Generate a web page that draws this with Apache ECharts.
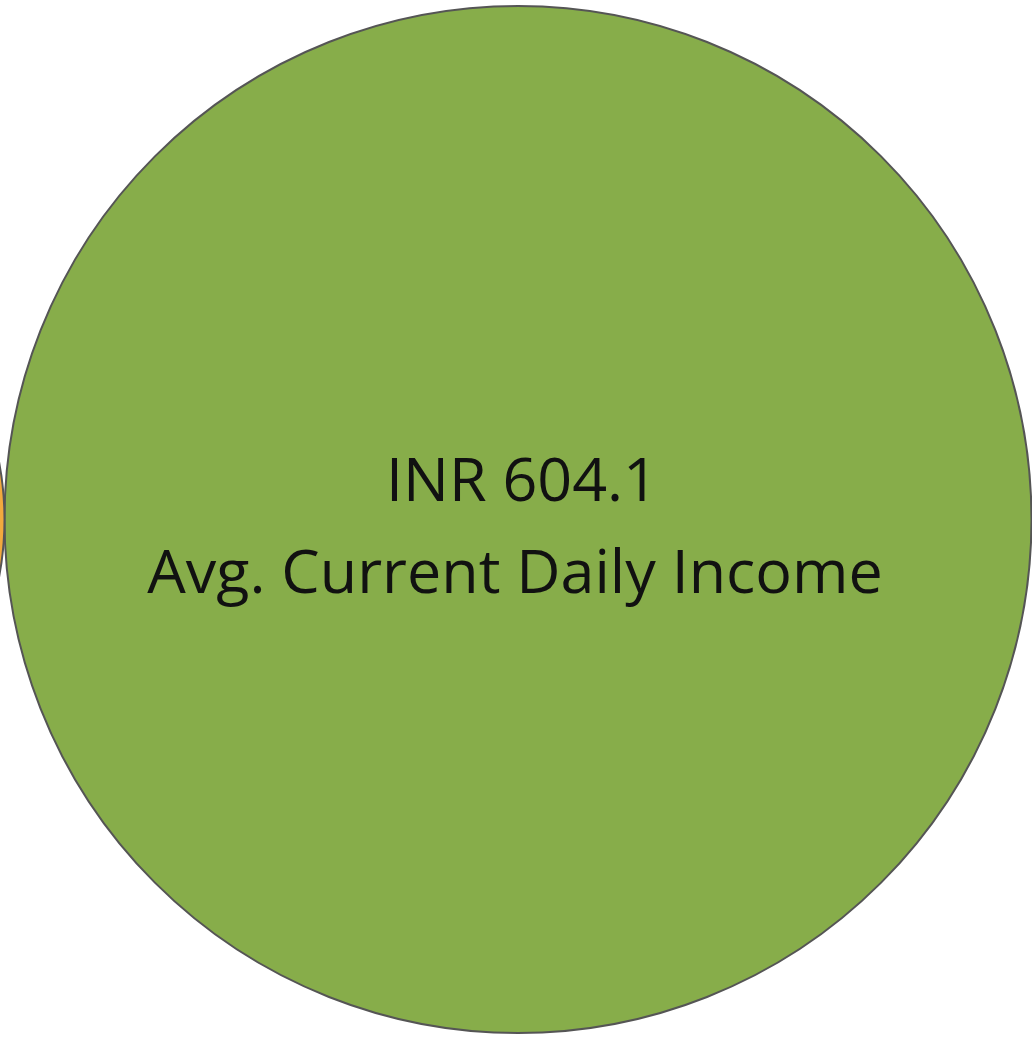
<!DOCTYPE html>
<html>
<head>
<meta charset="utf-8">
<script src="https://cdn.jsdelivr.net/npm/echarts@6/dist/echarts.min.js"></script>
<style>
html,body{margin:0;padding:0;background:#fff;}
#main{width:1032px;height:1039px;}
</style>
</head>
<body>
<div id="main"></div>
<script>
// Data
const categories = ["Avg. Current Daily Income", "Avg. Previous Daily Income"];
const values = [604.1, 213];
const labels = ["INR 604.1", ""];
const colors = ["#87ad4a", "#f2a93e"];

// Layout (packed bubbles: largest centred, next placed tangent on the left)
const W = 1032, H = 1039;
const centre = [518, 519.5];
const scale = 1027 / Math.sqrt(values[0]); // px diameter per sqrt(value)
const diam = values.map(v => scale * Math.sqrt(v));
const xs = [centre[0], centre[0] - diam[0] / 2 - diam[1] / 2];
const ys = [centre[1], centre[1]];

const chart = echarts.init(document.getElementById('main'));
chart.setOption({
  animation: false,
  grid: {left: 0, right: 0, top: 0, bottom: 0},
  xAxis: {type: 'value', min: 0, max: W, show: false},
  yAxis: {type: 'value', min: 0, max: H, inverse: true, show: false},
  series: [{
    type: 'scatter',
    clip: false,
    data: categories.map((c, i) => ({
      name: c,
      value: [xs[i], ys[i], values[i]],
      symbolSize: diam[i],
      itemStyle: {color: colors[i], borderColor: '#555555', borderWidth: 2, opacity: 1},
      label: {
        show: i === 0,
        position: 'inside',
        offset: [-3, 10],
        formatter: () => '{v|' + labels[i] + '}\n{n|' + c + '}',
        rich: {
          v: {fontFamily: 'Open Sans', fontSize: 61, color: '#111', lineHeight: 92, align: 'center', padding: [0, 0, 0, 14]},
          n: {fontFamily: 'Open Sans', fontSize: 61, color: '#111', lineHeight: 92, align: 'center'}
        }
      }
    }))
  }]
});
</script>
</body>
</html>
